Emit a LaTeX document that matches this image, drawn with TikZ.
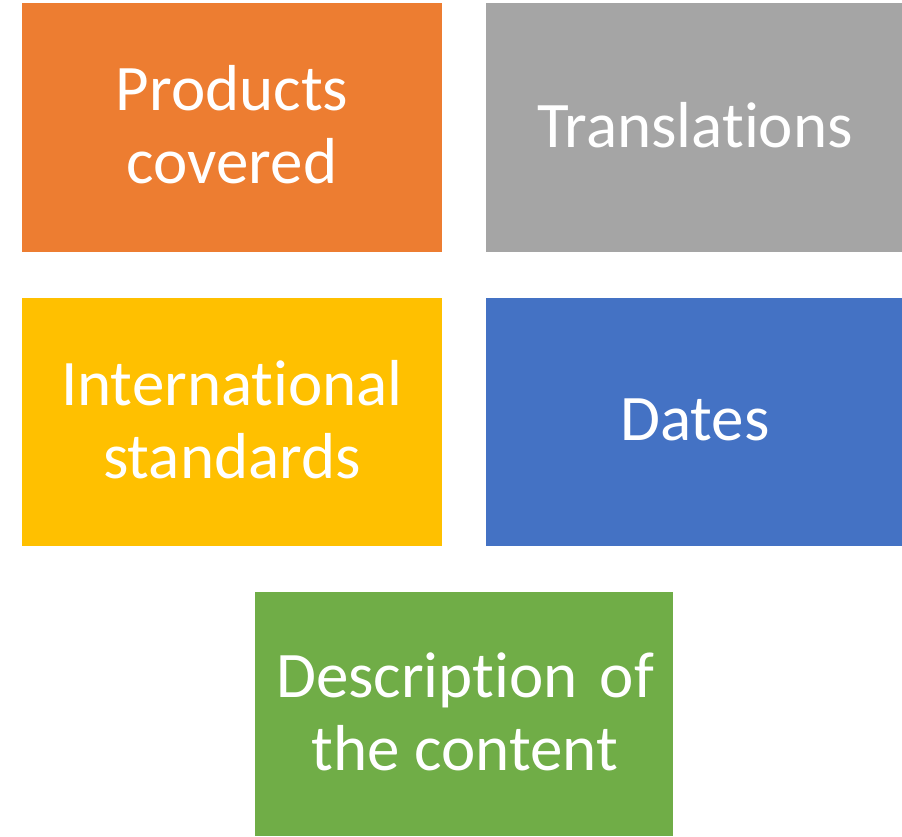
\documentclass[tikz,border=0pt]{standalone}
\usepackage{fontspec}
\setmainfont{Carlito}[RawFeature={-liga;-clig;-dlig}]
\definecolor{corange}{HTML}{ED7D31}
\definecolor{cgray}{HTML}{A5A5A5}
\definecolor{cyellow}{HTML}{FFC000}
\definecolor{cblue}{HTML}{4472C4}
\definecolor{cgreen}{HTML}{70AD47}
\tikzset{
  box/.style={fill=#1, draw=none},
  lbl/.style={text=white, align=center, font=\fontsize{65}{73}\selectfont, inner sep=0pt}
}
\begin{document}
\begin{tikzpicture}[x=1pt,y=-1pt]
\useasboundingbox (0,0) rectangle (902,836);
\fill[box=corange] (22,3) rectangle (442,252);
\fill[box=cgray] (486,3) rectangle (902,252);
\fill[box=cyellow] (22,298) rectangle (442,546);
\fill[box=cblue] (486,298) rectangle (902,546);
\fill[box=cgreen] (255,592) rectangle (673,836);
\node[lbl] (a) at (232,125) {Products\\covered};
\node[lbl] (b) at (695,125) {Translations};
\node[lbl] (c) at (232,420) {International\\standards};
\node[lbl] (d) at (695,420) {Dates};
\node[lbl] (e) at (465,712) {Description\hspace{22pt}of\\the content};
\end{tikzpicture}
\end{document}
